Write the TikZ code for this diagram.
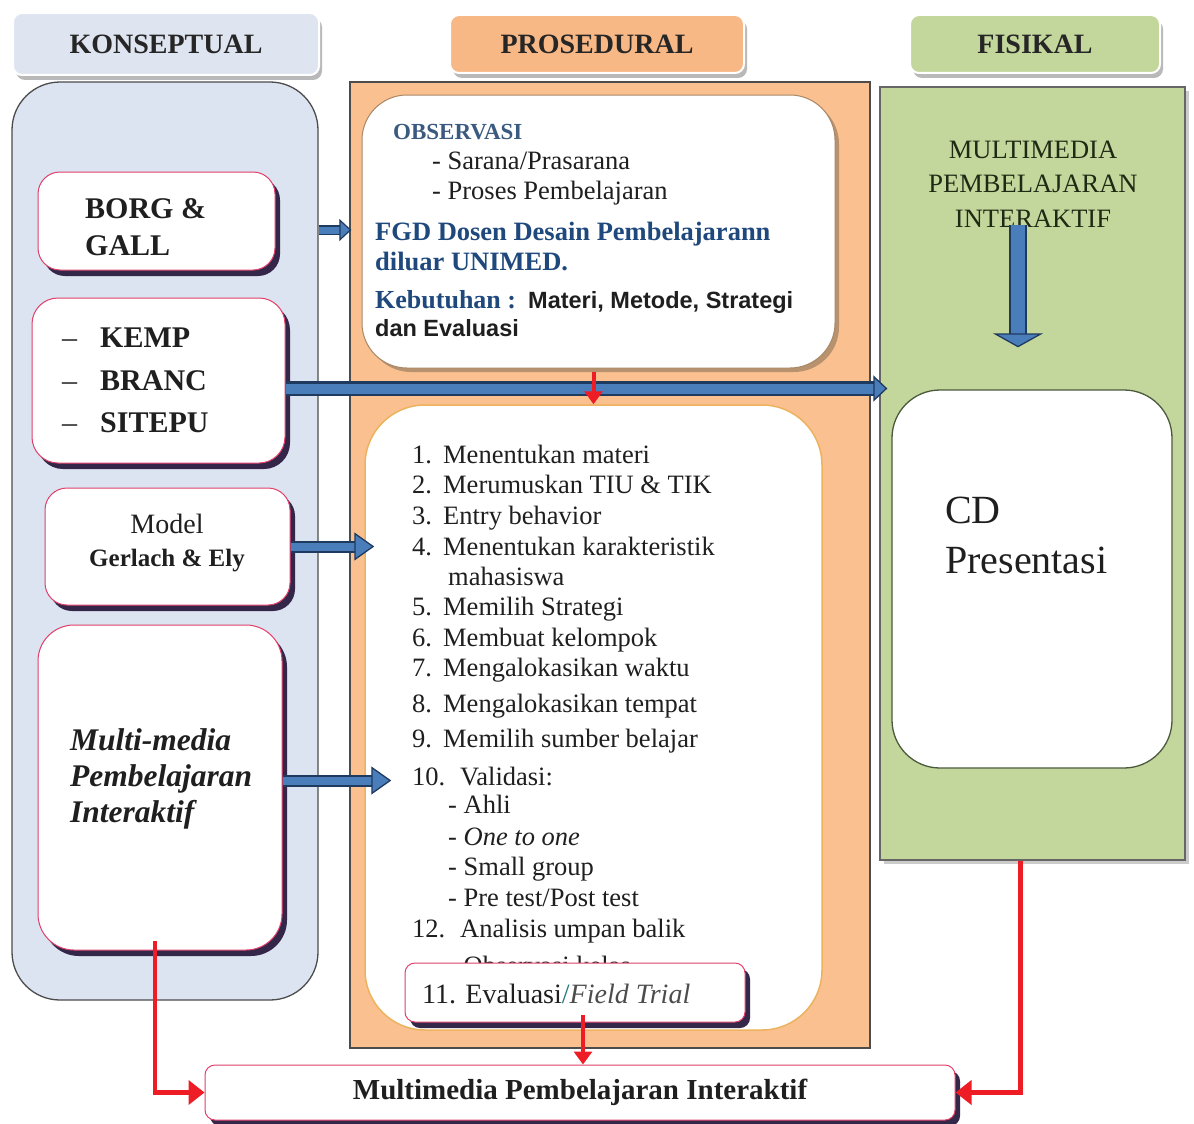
\documentclass[tikz,border=0pt]{standalone}
\usepackage{fontspec}
\setmainfont{Liberation Serif}
\newfontfamily\arialf{Liberation Sans}
\usetikzlibrary{arrows.meta,shadows,calc}

\definecolor{konfill}{HTML}{DCE3F1}
\definecolor{konhead}{HTML}{DEE5F0}
\definecolor{orfill}{HTML}{FAC08F}
\definecolor{orhead}{HTML}{F8B886}
\definecolor{grfill}{HTML}{C3D69B}
\definecolor{arrblue}{HTML}{4A7EBB}
\definecolor{arrdk}{HTML}{1F3A5F}
\definecolor{arrred}{HTML}{EE1C25}
\definecolor{boxred}{HTML}{E0406A}
\definecolor{shadowdk}{HTML}{2A1C40}
\definecolor{fgdblue}{HTML}{1F497D}
\definecolor{obsblue}{HTML}{3B5A80}
\definecolor{txtgreen}{HTML}{1F2A14}
\definecolor{obsedge}{HTML}{A88766}
\definecolor{listedge}{HTML}{EDB25E}
\definecolor{cdedge}{HTML}{4B5A3C}
\definecolor{slashteal}{HTML}{1F7A80}

\newcommand\setfs[1]{\fontsize{#1}{#1}\selectfont}

\tikzset{
  hdr/.style={rounded corners=9pt, draw=white, line width=2pt,
    minimum height=58pt, font=\setfs{28}\bfseries, text=black!85,
    drop shadow={shadow xshift=3pt, shadow yshift=-5pt, fill=black!50, opacity=.55}},
  column/.style={draw=black!70, line width=1.3pt},
  wbox/.style={rounded corners=22pt, fill=white, draw=boxred, line width=1pt,
    drop shadow={shadow xshift=5pt, shadow yshift=-6pt, fill=shadowdk, opacity=.95}},
  txt/.style={anchor=base west, inner sep=0pt, text=black!88},
  ctxt/.style={anchor=base, inner sep=0pt, text=black!88},
  barrow/.style={draw=arrblue, line width=8pt,
    -{Triangle[length=20pt,width=28pt,line width=1.3pt,color=arrdk,fill=arrblue]},
    preaction={draw=arrdk, line width=12pt, -, shorten >=17pt}},
  barrowlong/.style={draw=arrblue, line width=10pt,
    -{Triangle[length=14pt,width=26pt,line width=1.3pt,color=arrdk,fill=arrblue]},
    preaction={draw=arrdk, line width=15pt, -, shorten >=11pt}},
  barrowsm/.style={draw=arrblue, line width=7pt,
    -{Triangle[length=12pt,width=22pt,line width=1.2pt,color=arrdk,fill=arrblue]},
    preaction={draw=arrdk, line width=10pt, -, shorten >=10pt}},
  barrowdn/.style={draw=arrblue, line width=14pt,
    -{Triangle[length=14pt,width=50pt,line width=1.3pt,color=arrdk,fill=arrblue]},
    preaction={draw=arrdk, line width=18pt, -, shorten >=11pt}},
  rarrow/.style={draw=arrred, line width=4pt, -{Triangle[length=13pt,width=18pt]}},
  rarrowbig/.style={draw=arrred, line width=4.5pt, -{Triangle[length=16pt,width=24pt]}},
}

\begin{document}
\begin{tikzpicture}[x=1pt,y=-1pt]
\useasboundingbox (0,0) rectangle (1194,1124);
\fill[white] (0,0) rectangle (1194,1124);

% column headers
\node[hdr, fill=konhead, minimum width=306pt, minimum height=62pt] (kh) at (166,44) {KONSEPTUAL};
\node[hdr, fill=orhead, minimum width=294pt] (ph) at (597,44) {PROSEDURAL};
\node[hdr, fill=grfill, minimum width=250pt] (fh) at (1035,44) {FISIKAL};

% column bodies
\node[column, fill=konfill, rounded corners=48pt, minimum width=306pt, minimum height=918pt] (kon) at (165,541) {};
\node[column, fill=orfill, minimum width=520pt, minimum height=966pt] (pros) at (610,565) {};
\node[column, fill=grfill, draw=black!60, minimum width=305pt, minimum height=773pt,
  drop shadow={shadow xshift=4pt, shadow yshift=-4pt, fill=black!40, opacity=.5}] (fis) at (1032.5,473.5) {};

% conceptual models
\node[wbox, minimum width=237pt, minimum height=98pt] (borg) at (156.5,221) {};
\node[wbox, minimum width=253pt, minimum height=165pt, rounded corners=26pt] (kemp) at (158.5,380.5) {};
\node[wbox, minimum width=245pt, minimum height=117pt] (model) at (167.5,546.5) {};
\node[wbox, minimum width=244pt, minimum height=325pt, rounded corners=36pt] (mm) at (160,787.5) {};

\node[txt, font=\setfs{30}\bfseries] (borg1) at (85,218) {BORG \&};
\node[txt, font=\setfs{30}\bfseries] (borg2) at (85,255) {GALL};
\node[txt, font=\setfs{30}\bfseries] (kemp1) at (62,347) {\makebox[38pt][l]{\mdseries –}KEMP};
\node[txt, font=\setfs{30}\bfseries] (kemp2) at (62,390) {\makebox[38pt][l]{\mdseries –}BRANC};
\node[txt, font=\setfs{30}\bfseries] (kemp3) at (62,432) {\makebox[38pt][l]{\mdseries –}SITEPU};
\node[ctxt, font=\setfs{28}] (model1) at (167,533) {Model};
\node[ctxt, font=\setfs{25}\bfseries] (model2) at (167,566) {Gerlach \& Ely};
\node[txt, font=\setfs{31.5}\bfseries\itshape] (mm1) at (70,750) {Multi-media};
\node[txt, font=\setfs{31.5}\bfseries\itshape] (mm2) at (70,786) {Pembelajaran};
\node[txt, font=\setfs{31.5}\bfseries\itshape] (mm3) at (70,822) {Interaktif};

% procedural boxes
\node[fill=white, draw=obsedge, line width=1pt, rounded corners=45pt, minimum width=473pt, minimum height=273pt,
  drop shadow={shadow xshift=4pt, shadow yshift=-4pt, fill=obsedge, opacity=.8}] (obs) at (598.5,231.5) {};
\node[fill=white, draw=listedge, line width=1.5pt, rounded corners=60pt, minimum width=457pt, minimum height=625pt] (list) at (593.5,717.5) {};

\node[txt, font=\setfs{23}\bfseries, text=obsblue] (obs1) at (393,139) {OBSERVASI};
\node[txt, font=\setfs{26.5}] (obs2) at (432,169) {- Sarana/Prasarana};
\node[txt, font=\setfs{26.5}] (obs3) at (432,199) {- Proses Pembelajaran};
\node[txt, font=\setfs{26.5}\bfseries, text=fgdblue] (obs4) at (375,240) {FGD Dosen Desain Pembelajarann};
\node[txt, font=\setfs{26.5}\bfseries, text=fgdblue] (obs5) at (375,270) {diluar UNIMED.};
\node[txt, font=\setfs{26}\bfseries, text=fgdblue] (obs6) at (375,308) {Kebutuhan :};
\node[txt, font=\arialf\setfs{23.5}\bfseries] (obs7) at (528,308) {Materi, Metode, Strategi};
\node[txt, font=\arialf\setfs{23.5}\bfseries] (obs8) at (375,336) {dan Evaluasi};

% procedure steps
\begin{scope}[every node/.append style={txt, font=\setfs{26.5}}]
\node (l1) at (412,463) {\makebox[31pt][l]{1.}Menentukan materi};
\node (l2) at (412,493) {\makebox[31pt][l]{2.}Merumuskan TIU \& TIK};
\node (l3) at (412,524) {\makebox[31pt][l]{3.}Entry behavior};
\node (l4) at (412,555) {\makebox[31pt][l]{4.}Menentukan karakteristik};
\node (l5) at (448,585) {mahasiswa};
\node (l6) at (412,615) {\makebox[31pt][l]{5.}Memilih Strategi};
\node (l7) at (412,646) {\makebox[31pt][l]{6.}Membuat kelompok};
\node (l8) at (412,676) {\makebox[31pt][l]{7.}Mengalokasikan waktu};
\node (l9) at (412,712) {\makebox[31pt][l]{8.}Mengalokasikan tempat};
\node (l10) at (412,747) {\makebox[31pt][l]{9.}Memilih sumber belajar};
\node (l11) at (412,785) {\makebox[48pt][l]{10.}Validasi:};
\node (l12) at (448,813) {- Ahli};
\node (l13) at (448,845) {- \textit{One to one}};
\node (l14) at (448,875) {- Small group};
\node (l15) at (448,906) {- Pre test/Post test};
\node (l16) at (412,937) {\makebox[48pt][l]{12.}Analisis umpan balik};
\node (l17) at (448,974) {- Observasi kelas};
\end{scope}

\node[wbox, rounded corners=10pt, minimum width=340pt, minimum height=59pt] (eval) at (575,992.5) {};
\node[txt, font=\setfs{28}] (evalT) at (422,1003) {11. Evaluasi{\color{slashteal}/}{\itshape\color{black!70}Field Trial}};

% physical column
\node[ctxt, font=\setfs{26.5}, text=txtgreen] (fis1) at (1033,158) {MULTIMEDIA};
\node[ctxt, font=\setfs{26.5}, text=txtgreen] (fis2) at (1033,192) {PEMBELAJARAN};
\node[ctxt, font=\setfs{26.5}, text=txtgreen] (fis3) at (1033,227) {INTERAKTIF};
\node[fill=white, draw=cdedge, line width=1.3pt, rounded corners=48pt, minimum width=280pt, minimum height=378pt] (cd) at (1032,579) {};
\node[txt, font=\setfs{40}] (cd1) at (945,523) {CD};
\node[txt, font=\setfs{40}] (cd2) at (945,573) {Presentasi};

% result
\node[wbox, rounded corners=10pt, minimum width=750pt, minimum height=55pt, font=\setfs{29}\bfseries, text=black!88] (final) at (580,1092.5) {Multimedia Pembelajaran Interaktif};

% blue flow arrows
\coordinate (borgA) at ([yshift=-9pt]borg.east);
\draw[barrowsm] (kon.east |- borgA) -- ($(pros.west |- borgA)+(2,0)$);
\coordinate (kempA) at ([yshift=-8pt]kemp.east);
\draw[barrowlong] (kempA) -- ($(kempA -| fis.west)+(8,0)$);
\draw[barrow] (model.east) -- ($(model.east -| list.west)+(10,0)$);
\coordinate (mmA) at ([yshift=7pt]mm.east);
\draw[barrow] (mmA) -- ($(mmA -| list.west)+(27,0)$);
\draw[barrowdn] ($(fis3.base)+(-15,-2)$) -- ($(cd.north)+(-14,-42)$);

% red flow arrows
\draw[rarrow] ([yshift=-3pt]obs.south -| list.north) -- (list.north);
\coordinate (evA) at ([xshift=8pt,yshift=8pt]eval.south);
\draw[rarrow] (evA) -- (evA |- final.north);
\draw[rarrowbig] ([xshift=-5pt,yshift=10pt]mm.south) |- (final.west);
\draw[rarrowbig] ([xshift=-12pt]fis.south) |- (final.east);
\end{tikzpicture}
\end{document}
